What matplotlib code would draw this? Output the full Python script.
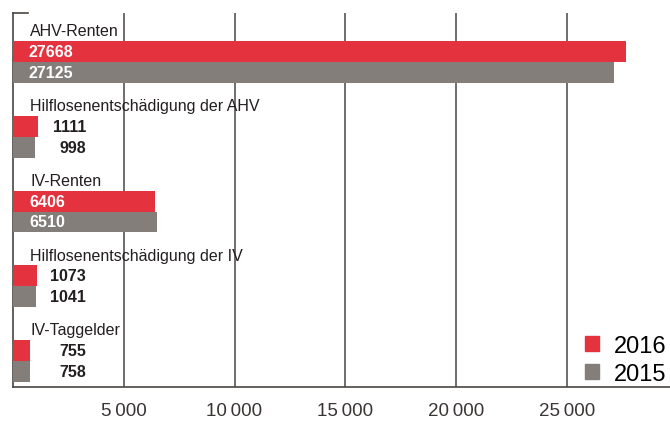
import matplotlib.pyplot as plt
from matplotlib.patches import Patch

categories = ['AHV-Renten', 'Hilflosenentschädigung der AHV', 'IV-Renten',
              'Hilflosenentschädigung der IV', 'IV-Taggelder']
values_2016 = [27668, 1111, 6406, 1073, 755]
values_2015 = [27125, 998, 6510, 1041, 758]
ticks = [5000, 10000, 15000, 20000, 25000]
tick_labels = ['5\u2009000', '10\u2009000', '15\u2009000', '20\u2009000', '25\u2009000']

red = '#e5323f'
grey = '#837e7a'
line = '#4a4543'
plt.rcParams['font.family'] = ['Liberation Sans', 'DejaVu Sans']

fig = plt.figure(figsize=(6.7, 4.27), dpi=100)
ax = fig.add_axes([13 / 670, 39 / 427, 657 / 670, 374 / 427])

h = 0.28
for i, cat in enumerate(categories):
    ax.barh(i - h / 2, values_2016[i], height=h, color=red, zorder=3)
    ax.barh(i + h / 2, values_2015[i], height=h, color=grey, zorder=3)
    ax.text(770, i - h - 0.035, cat, fontsize=11.5, color='#231f20',
            va='bottom', ha='left', zorder=4)
    for y, v in ((i - h / 2, values_2016[i]), (i + h / 2, values_2015[i])):
        if v > 5000:
            ax.text(720, y, str(v), color='white', fontsize=11.5, fontweight='bold',
                    va='center', ha='left', zorder=4)
        else:
            ax.text(3300, y, str(v), color='#231f20', fontsize=11.5, fontweight='bold',
                    va='center', ha='right', zorder=4)

ax.set_xlim(0, 29660)
ax.set_ylim(4.348, -0.656)
ax.set_xticks(ticks)
ax.set_xticklabels(tick_labels, fontsize=13.5, color='#3a3534')
ax.tick_params(axis='x', length=0, pad=11)
ax.set_yticks([])
for x in ticks:
    ax.axvline(x, color=line, lw=1.1, zorder=1)
for s in ['top', 'right']:
    ax.spines[s].set_visible(False)
for s in ['left', 'bottom']:
    ax.spines[s].set_color(line)
    ax.spines[s].set_linewidth(1.2)
ax.plot([0, 15 / 657], [1, 1], transform=ax.transAxes, color=line, lw=1.2,
        clip_on=False)

handles = [Patch(color=red, label='2016'), Patch(color=grey, label='2015')]
ax.legend(handles=handles, loc='lower right', bbox_to_anchor=(0.995, 0.097),
          bbox_transform=fig.transFigure, frameon=False, fontsize=17,
          handlelength=0.6, handleheight=0.6, handletextpad=0.65,
          labelspacing=0.25, borderpad=0, borderaxespad=0)

fig.savefig('out.png', dpi=100)
